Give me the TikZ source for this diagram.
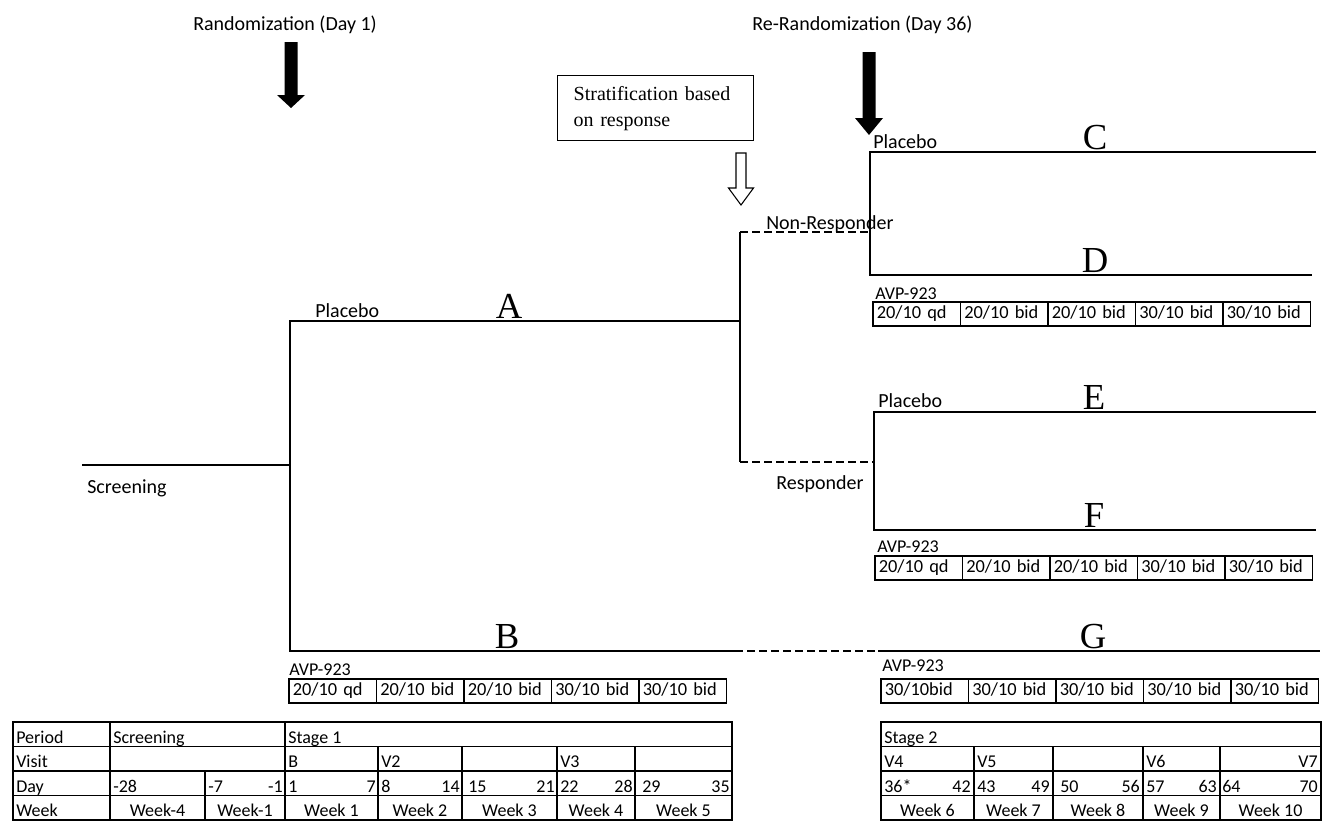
\documentclass[tikz,border=0pt]{standalone}
\usepackage{fontspec}
\setmainfont{Carlito}
\newfontfamily\tmsfont{Liberation Serif}
\begin{document}
\begin{tikzpicture}[x=0.75pt,y=-0.75pt,
  tree/.style={line width=1.5pt, line join=miter},
  dashline/.style={line width=1.3pt, dash pattern=on 6pt off 3pt},
  lab/.style={font=\fontsize{15}{18}\selectfont, inner sep=0pt, anchor=base west},
  avp/.style={font=\fontsize{13.5}{16}\selectfont, inner sep=0pt, anchor=base west},
  letter/.style={font=\tmsfont\fontsize{27.5}{30}\selectfont, inner sep=0pt, anchor=base},
  dosecell/.style={draw, line width=1.1pt, anchor=north west, outer sep=0pt,
    text width=60pt, inner xsep=2.8125pt, inner ysep=0pt, minimum height=18pt,
    text height=9.5pt, text depth=3.2pt,
    align=left, font=\fontsize{13.8}{15}\selectfont},
  stratbox/.style={draw, line width=1pt, anchor=north west, minimum width=147pt,
    minimum height=48.75pt, text width=123pt, inner xsep=12pt, align=left,
    font=\tmsfont\fontsize{15}{19.5}\selectfont},
  tabline/.style={line width=1.4pt},
  ttxt/.style={font=\fontsize{13.5}{15}\selectfont, inner sep=0pt, anchor=base west},
  ttxtr/.style={font=\fontsize{13.5}{15}\selectfont, inner sep=0pt, anchor=base east},
  ttxtc/.style={font=\fontsize{13.5}{15}\selectfont, inner sep=0pt, anchor=base}
]
\useasboundingbox (0,0) rectangle (1328,821);

% ---------- headings and block arrows ----------
\node[lab] (rand) at (193,30) {Randomization (Day 1)};
\node[lab] (rerand) at (752,31) {Re-Randomization (Day 36)};
\fill (284.5,42) -- (297.5,42) -- (297.5,95) -- (305,95) -- (291,108) -- (277,95) -- (284.5,95) -- cycle;
\fill (862.5,52) -- (875.5,52) -- (875.5,118) -- (883,118) -- (869,135) -- (855,118) -- (862.5,118) -- cycle;

\node[stratbox] (strat) at (557,75) {Stratification based\\on response};
\draw[line width=0.8pt, fill=white] (736,153) -- (746,153) -- (746,188) -- (753.5,188) -- (741,205) -- (728.5,188) -- (736,188) -- cycle;

% ---------- tree coordinates ----------
\coordinate (scr) at (82,465);
\coordinate (r1) at (290,465);
\coordinate (r1top) at (290,321);
\coordinate (r1bot) at (290,651);
\coordinate (aend) at (740,321);
\coordinate (bend) at (735,651);
\coordinate (gstart) at (878,651);
\coordinate (gend) at (1320,651);
\coordinate (stop) at (740,232);
\coordinate (sbot) at (740,462);
\coordinate (nr) at (870,232);
\coordinate (ctop) at (870,152);
\coordinate (dbot) at (870,275);
\coordinate (cend) at (1316,152);
\coordinate (dend) at (1312,275);
\coordinate (rr) at (874,462);
\coordinate (etop) at (874,412);
\coordinate (fbot) at (874,530);
\coordinate (eend) at (1316,412);
\coordinate (fend) at (1316,530);

\draw[tree] (scr) -- (r1);
\draw[tree] (aend) -- (r1top) -- (r1bot) -- (bend);
\draw[dashline] (bend) -- (gstart);
\draw[tree] (gstart) -- (gend);
\draw[tree] (stop) -- (sbot);
\draw[dashline] (stop) -- (nr);
\draw[dashline] (sbot) -- (rr);
\draw[tree] (cend) -- (ctop) -- (dbot) -- (dend);
\draw[tree] (eend) -- (etop) -- (fbot) -- (fend);

% ---------- tree labels ----------
\node[lab] (scrl) at (87,493) {Screening};
\node[lab] (pa) at (315,317) {Placebo};
\node[lab] (pc) at (873,148) {Placebo};
\node[lab] (pe) at (878,407) {Placebo};
\node[lab] (nrl) at (766,229) {Non-Responder};
\node[lab] (rl) at (776,489) {Responder};

\node[letter] (la) at (509,318.5) {A};
\node[letter] (lb) at (507,648.5) {B};
\node[letter] (lc) at (1095,149.5) {C};
\node[letter] (ld) at (1095,272.5) {D};
\node[letter] (le) at (1094,409.5) {E};
\node[letter] (lf) at (1094,527.5) {F};
\node[letter] (lg) at (1093,648.5) {G};

% ---------- dose boxes ----------
\node[avp] (avpb) at (289,675) {AVP-923};
\node[dosecell] (b1) at (289,679) {20/10 qd};
\node[dosecell] (b2) at (b1.north east) {20/10 bid};
\node[dosecell] (b3) at (b2.north east) {20/10 bid};
\node[dosecell] (b4) at (b3.north east) {30/10 bid};
\node[dosecell] (b5) at (b4.north east) {30/10 bid};

\node[avp] (avpd) at (875,299) {AVP-923};
\node[dosecell] (d1) at (873,302) {20/10 qd};
\node[dosecell] (d2) at (d1.north east) {20/10 bid};
\node[dosecell] (d3) at (d2.north east) {20/10 bid};
\node[dosecell] (d4) at (d3.north east) {30/10 bid};
\node[dosecell] (d5) at (d4.north east) {30/10 bid};

\node[avp] (avpf) at (877,552) {AVP-923};
\node[dosecell] (f1) at (875,556) {20/10 qd};
\node[dosecell] (f2) at (f1.north east) {20/10 bid};
\node[dosecell] (f3) at (f2.north east) {20/10 bid};
\node[dosecell] (f4) at (f3.north east) {30/10 bid};
\node[dosecell] (f5) at (f4.north east) {30/10 bid};

\node[avp] (avpg) at (882,671) {AVP-923};
\node[dosecell] (g1) at (881,679) {30/10bid};
\node[dosecell] (g2) at (g1.north east) {30/10 bid};
\node[dosecell] (g3) at (g2.north east) {30/10 bid};
\node[dosecell] (g4) at (g3.north east) {30/10 bid};
\node[dosecell] (g5) at (g4.north east) {30/10 bid};

% ---------- left table ----------
\draw[tabline] (13,722) rectangle (732,820);
\draw[tabline] (13,746.5) -- (732,746.5);
\draw[tabline] (13,771) -- (732,771);
\draw[tabline] (13,795.5) -- (732,795.5);
\draw[tabline] (110,722) -- (110,820);
\draw[tabline] (285,722) -- (285,820);
\draw[tabline] (205,771) -- (205,820);
\foreach \cx in {378,462,557,635} \draw[tabline] (\cx,746.5) -- (\cx,820);

\node[ttxt] at (16,743) {Period};
\node[ttxt] at (113,743) {Screening};
\node[ttxt] at (288,743) {Stage 1};
\node[ttxt] at (16,767.5) {Visit};
\node[ttxt] at (288,767.5) {B};
\node[ttxt] at (381,767.5) {V2};
\node[ttxt] at (560,767.5) {V3};
\node[ttxt] at (16,792) {Day};
\node[ttxt] at (113,792) {-28};
\node[ttxt] at (208,792) {-7};
\node[ttxtr] at (283,792) {-1};
\node[ttxt] at (288,792) {1};
\node[ttxtr] at (376,792) {7};
\node[ttxt] at (381,792) {8};
\node[ttxtr] at (460,792) {14};
\node[ttxt] at (468,792) {15};
\node[ttxtr] at (555,792) {21};
\node[ttxt] at (560,792) {22};
\node[ttxtr] at (633,792) {28};
\node[ttxt] at (642,792) {29};
\node[ttxtr] at (730,792) {35};
\node[ttxt] at (16,816.5) {Week};
\node[ttxtc] at (157.5,816.5) {Week-4};
\node[ttxtc] at (245,816.5) {Week-1};
\node[ttxtc] at (331.5,816.5) {Week 1};
\node[ttxtc] at (420,816.5) {Week 2};
\node[ttxtc] at (509.5,816.5) {Week 3};
\node[ttxtc] at (596,816.5) {Week 4};
\node[ttxtc] at (683.5,816.5) {Week 5};

% ---------- right table ----------
\draw[tabline] (881,722) rectangle (1321,820);
\draw[tabline] (881,746.5) -- (1321,746.5);
\draw[tabline] (881,771) -- (1321,771);
\draw[tabline] (881,795.5) -- (1321,795.5);
\foreach \cx in {974,1053,1143,1220} \draw[tabline] (\cx,746.5) -- (\cx,820);

\node[ttxt] at (884,743) {Stage 2};
\node[ttxt] at (884,767.5) {V4};
\node[ttxt] at (977,767.5) {V5};
\node[ttxt] at (1146,767.5) {V6};
\node[ttxtr] at (1318,767.5) {V7};
\node[ttxt] at (884,792) {36*};
\node[ttxtr] at (971,792) {42};
\node[ttxt] at (977,792) {43};
\node[ttxtr] at (1050,792) {49};
\node[ttxt] at (1060,792) {50};
\node[ttxtr] at (1140,792) {56};
\node[ttxt] at (1146,792) {57};
\node[ttxtr] at (1217,792) {63};
\node[ttxt] at (1222,792) {64};
\node[ttxtr] at (1318,792) {70};
\node[ttxtc] at (927.5,816.5) {Week 6};
\node[ttxtc] at (1013.5,816.5) {Week 7};
\node[ttxtc] at (1098,816.5) {Week 8};
\node[ttxtc] at (1181.5,816.5) {Week 9};
\node[ttxtc] at (1270.5,816.5) {Week 10};
\end{tikzpicture}
\end{document}
